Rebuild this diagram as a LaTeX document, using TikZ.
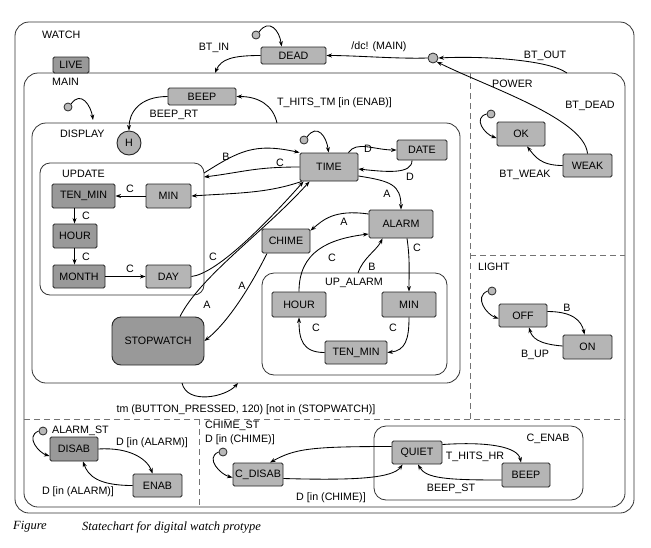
\documentclass[tikz,border=0pt]{standalone}
\usepackage{fontspec}
\setmainfont{Liberation Sans}
\newfontfamily\capfont{Liberation Serif}
\usetikzlibrary{arrows.meta,calc}
\tikzset{
  every node/.style={font=\fontsize{10.7}{12}\selectfont},
  box/.style={draw=black!85, line width=0.9pt, fill=gray!58, rounded corners=1.5pt, inner sep=1pt},
  dbox/.style={box, fill=gray!80},
  cont/.style={draw=black!80, line width=0.8pt, rounded corners=14pt, inner sep=0pt},
  tr/.style={draw=black, line width=0.85pt, -{Stealth[length=5.5pt,width=4pt]}},
  lbl/.style={inner sep=0pt},
  initdot/.style={circle, draw=black!85, line width=0.8pt, fill=gray!55, minimum size=8pt, inner sep=0pt},
  dsh/.style={draw=black!55, line width=0.7pt, dash pattern=on 6pt off 4pt}
}
\begin{document}
\begin{tikzpicture}[x=1pt,y=-1pt]
\useasboundingbox (0,0) rectangle (651,547);
\fill[white] (0,0) rectangle (651,547);
% containers
\node[cont, minimum width=619pt, minimum height=491pt] (watch) at (324.5,267.5) {};
\node[cont, minimum width=601pt, minimum height=434pt] (live) at (324.5,290) {};
\node[cont, minimum width=428pt, minimum height=260pt] (display) at (246,253) {};
\node[cont, rounded corners=10pt, minimum width=164pt, minimum height=132pt] (update) at (122,229) {};
\node[cont, rounded corners=12pt, minimum width=185pt, minimum height=102pt] (upalarm) at (354.5,324) {};
\node[cont, rounded corners=12pt, minimum width=209pt, minimum height=74pt] (cenab) at (478.5,463) {};
% dashed separators
\coordinate (dv1) at (470,73); \coordinate (dv2) at (470,419);
\coordinate (dh1) at (24,419); \coordinate (dh2) at (625,419);
\coordinate (dp1) at (470,255); \coordinate (dp2) at (625,255);
\coordinate (db1) at (199,419); \coordinate (db2) at (199,507);
\draw[dsh] (dv1) -- (dv2);
\draw[dsh] (dh1) -- (dh2);
\draw[dsh] (dp1) -- (dp2);
\draw[dsh] (db1) -- (db2);
% container labels
\node[lbl, anchor=west] (lwatch) at (42,35) {WATCH};
\node[lbl, anchor=west] (lmain) at (52,82) {MAIN};
\node[lbl, anchor=west] (ldisplay) at (60,134) {DISPLAY};
\node[lbl, anchor=west] (lupdate) at (62,174) {UPDATE};
\node[lbl, anchor=west] (lpower) at (492,84) {POWER};
\node[lbl, anchor=west] (llight) at (478,267) {LIGHT};
\node[lbl, anchor=west] (lalst) at (52,431) {ALARM\_ST};
\node[lbl, anchor=west] (lchst) at (205,426) {CHIME\_ST};
\node[lbl] (lcenab) at (548,439) {C\_ENAB};
\node[lbl] (lupal) at (354,283) {UP\_ALARM};
% states
\node[box, minimum width=65pt, minimum height=17pt] (dead) at (293.5,55.5) {DEAD};
\node[dbox, minimum width=36pt, minimum height=16pt] (livetab) at (71,65) {LIVE};
\node[box, minimum width=68pt, minimum height=17pt] (beep) at (202,96.5) {BEEP};
\node[circle, draw=black!85, line width=0.9pt, fill=gray!60, minimum size=24pt, inner sep=0pt] (h) at (129,143) {H};
\node[dbox, minimum width=63pt, minimum height=24pt] (tenmin) at (83.5,196) {TEN\_MIN};
\node[box, minimum width=45pt, minimum height=24pt] (min) at (168.5,196) {MIN};
\node[dbox, minimum width=44pt, minimum height=24pt] (hour) at (75,236) {HOUR};
\node[dbox, minimum width=52pt, minimum height=23pt] (month) at (79,276.5) {MONTH};
\node[box, minimum width=45pt, minimum height=23pt] (day) at (168.5,276.5) {DAY};
\node[box, minimum width=58pt, minimum height=28pt] (time) at (329,167) {TIME};
\node[box, minimum width=50pt, minimum height=20pt] (date) at (422,150) {DATE};
\node[box, minimum width=64pt, minimum height=28pt] (alarm) at (401,224) {ALARM};
\node[box, minimum width=48pt, minimum height=24pt] (chime) at (286,241) {CHIME};
\node[dbox, rounded corners=9pt, minimum width=92pt, minimum height=48pt] (stopwatch) at (158,341) {STOPWATCH};
\node[box, minimum width=54pt, minimum height=25pt] (uahour) at (299,304.5) {HOUR};
\node[box, minimum width=54pt, minimum height=25pt] (uamin) at (409,304.5) {MIN};
\node[box, minimum width=62pt, minimum height=23pt] (uatenmin) at (356,352.5) {TEN\_MIN};
\node[box, minimum width=48pt, minimum height=24pt] (ok) at (521,134) {OK};
\node[box, minimum width=49pt, minimum height=23pt] (weak) at (587.5,165.5) {WEAK};
\node[box, minimum width=48pt, minimum height=23pt] (off) at (523,315.5) {OFF};
\node[box, minimum width=49pt, minimum height=24pt] (on) at (587.5,347) {ON};
\node[dbox, minimum width=48pt, minimum height=24pt] (disab) at (74,449) {DISAB};
\node[box, minimum width=49pt, minimum height=23pt] (enab) at (157.5,485.5) {ENAB};
\node[box, minimum width=50pt, minimum height=23pt] (cdisab) at (258,474.5) {C\_DISAB};
\node[box, minimum width=50pt, minimum height=23pt] (quiet) at (417,452.5) {QUIET};
\node[box, minimum width=48pt, minimum height=24pt] (cbeep) at (526,475) {BEEP};
% initial dots and connector
\node[initdot] (d1) at (256,35) {};
\node[initdot] (d2) at (68,107) {};
\node[initdot] (d3) at (304,140) {};
\node[initdot] (d4) at (491,114) {};
\node[initdot] (d5) at (492,291) {};
\node[initdot] (d6) at (43,431) {};
\node[initdot] (d7) at (223,452) {};
\node[initdot, minimum size=10pt] (cc) at (433,58) {};
% boundary points
\coordinate (liveA) at (215,73);
\coordinate (liveB) at (567,73);
\coordinate (dispA) at (277,123);
\coordinate (mainEntry) at (93,120);
\coordinate (updA) at (204,173);
\coordinate (updB) at (204,177);
\coordinate (uaA) at (358,273);
\coordinate (dispL) at (182,383);
\coordinate (dispR) at (238,383);
% default transitions
\draw[tr] (d1.north east) .. controls +(10,-14) and +(-2,-16) .. ($(dead.north west)+(21,0)$);
\draw[tr] (d2.north east) .. controls +(10,-14) and +(-2,-14) .. (mainEntry);
\draw[tr] (d3.north east) .. controls +(10,-14) and +(-2,-16) .. ($(time.north west)+(29,0)$);
\draw[tr] (d4.west) .. controls +(-14,4) and +(-12,-4) .. ($(ok.west)+(0,4)$);
\draw[tr] (d5.west) .. controls +(-14,6) and +(-12,-4) .. ($(off.west)+(0,3)$);
\draw[tr] (d6.west) .. controls +(-14,6) and +(-10,-3) .. ($(disab.west)+(0,7)$);
\draw[tr] (d7.west) .. controls +(-14,6) and +(-12,-3) .. ($(cdisab.west)+(0,3)$);
% top transitions
\draw[tr] (dead.west) .. controls +(-28,0) and +(6,-14) .. (liveA);
\node[lbl] (lbtin) at (214,48) {BT\_IN};
\draw[tr] (cc.west) .. controls +(-30,1) and +(30,0) .. (dead.east);
\node[lbl] (ldc) at (379,47) {/dc! (MAIN)};
\draw[tr] (liveB) .. controls +(-20,-14) and +(40,-2) .. (cc.east);
\node[lbl] (lbtout) at (545,56) {BT\_OUT};
\draw[tr] (weak.north) .. controls +(-3,-35) and +(50,25) .. (cc.south east);
\node[lbl] (lbtdead) at (590,106) {BT\_DEAD};
\draw[tr] (weak.west) .. controls +(-22,0) and +(8,10) .. ($(ok.south)+(6,0)$);
\node[lbl] (lbtweak) at (525,175) {BT\_WEAK};
\draw[tr] (beep.west) .. controls +(-28,0) and +(0,-18) .. (h.north);
\node[lbl] (lbeeprt) at (174,115) {BEEP\_RT};
\draw[tr] (dispA) .. controls +(-4,-18) and +(22,0) .. (beep.east);
\node[lbl, anchor=west] (lthtm) at (277,103) {T\_HITS\_TM [in (ENAB)]};
% display transitions
\draw[tr] (updA) .. controls +(35,-22) and +(-45,-10) .. (time.north west);
\node[lbl] (lb1) at (226,157) {B};
\draw[tr] (time.west) .. controls +(-45,0) and +(40,-5) .. (updB);
\node[lbl] (lc1) at (280,163) {C};
\draw[tr] ($(time.south west)+(2,0)$) .. controls +(-35,12) and +(45,-3) .. (min.east);
\draw[tr] (day.east) .. controls +(25,-3) and +(-40,45) .. ($(time.south west)+(4,0)$);
\node[lbl] (lc2) at (213,257) {C};
\draw[tr] ($(stopwatch.north)+(22,0)$) .. controls +(20,-40) and +(-45,50) .. ($(time.south west)+(10,0)$);
\node[lbl] (la1) at (207,305) {A};
\draw[tr] ($(chime.south)+(-19,0)$) .. controls +(-15,30) and +(25,-20) .. (stopwatch.east);
\node[lbl] (la2) at (242,286) {A};
\draw[tr] ($(time.north east)+(-10,0)$) .. controls +(8,-12) and +(-22,0) .. (date.west);
\node[lbl] (ld1) at (368,149) {D};
\draw[tr] ($(date.south)+(-10,0)$) .. controls +(0,14) and +(28,3) .. ($(time.east)+(0,2)$);
\node[lbl] (ld2) at (410,177) {D};
\draw[tr] ($(time.east)+(0,9)$) .. controls +(32,5) and +(0,-25) .. (alarm.north);
\node[lbl] (la3) at (387,194) {A};
\draw[tr] ($(alarm.west)+(0,-10)$) .. controls +(-35,-5) and +(12,-10) .. ($(chime.north east)+(0,2)$);
\node[lbl] (la4) at (344,222) {A};
\draw[tr] ($(alarm.south)+(6,0)$) .. controls +(3,20) and +(0,-20) .. (uamin.north);
\node[lbl] (lc3) at (417,248) {C};
\draw[tr] (uaA) .. controls +(5,-15) and +(-6,12) .. ($(alarm.south west)+(14,0)$);
\node[lbl] (lb2) at (372,267) {B};
\draw[tr] (uahour.north) .. controls +(0,-40) and +(-40,5) .. ($(alarm.west)+(0,10)$);
\node[lbl] (lc4) at (332,258) {C};
\draw[tr] (uamin.south) .. controls +(0,22) and +(18,-2) .. (uatenmin.east);
\node[lbl] (lc5) at (393,328) {C};
\draw[tr] (uatenmin.west) .. controls +(-22,0) and +(0,22) .. (uahour.south);
\node[lbl] (lc6) at (316,328) {C};
\draw[tr] (min.west) -- (tenmin.east);
\node[lbl] (lc7) at (130,189) {C};
\draw[tr] ($(tenmin.south west)+(23,0)$) -- ($(hour.north west)+(22,0)$);
\node[lbl] (lc8) at (86,216) {C};
\draw[tr] ($(hour.south west)+(22,0)$) -- ($(month.north west)+(22,0)$);
\node[lbl] (lc9) at (86,257) {C};
\draw[tr] (month.east) -- (day.west);
\node[lbl] (lc10) at (130,269) {C};
\draw[tr] (dispL) .. controls +(5,22) and +(-12,14) .. (dispR);
\node[lbl] (ltm) at (246,410) {tm (BUTTON\_PRESSED, 120) [not in (STOPWATCH)]};
% light
\draw[tr] ($(off.east)+(0,-4)$) .. controls +(25,0) and +(-3,-14) .. ($(on.north)+(-3,0)$);
\node[lbl] (lb3) at (567,308) {B};
\draw[tr] ($(on.west)+(0,-1)$) .. controls +(-25,-2) and +(3,10) .. ($(off.south)+(6,0)$);
\node[lbl] (lbup) at (535,355) {B\_UP};
% alarm_st
\draw[tr] (disab.east) .. controls +(32,-2) and +(-5,-14) .. ($(enab.north)+(-5,0)$);
\node[lbl] (lda1) at (152,443) {D [in (ALARM)]};
\draw[tr] (enab.west) .. controls +(-35,0) and +(5,14) .. ($(disab.south)+(9,0)$);
\node[lbl] (lda2) at (78,492) {D [in (ALARM)]};
% chime_st
\node[lbl, anchor=west] (ldc1) at (205,440) {D [in (CHIME)]};
\draw[tr] ($(quiet.west)+(0,-6)$) .. controls +(-80,0) and +(25,-14) .. ($(cdisab.north)+(12,0)$);
\draw[tr] ($(cdisab.east)+(0,4)$) .. controls +(70,2) and +(-10,14) .. ($(quiet.south west)+(11,0)$);
\node[lbl] (ldc2) at (331,498) {D [in (CHIME)]};
\draw[tr] ($(quiet.east)+(0,-8)$) .. controls +(45,-3) and +(-3,-16) .. ($(cbeep.north)+(-5,0)$);
\node[lbl] (lthr) at (475,457) {T\_HITS\_HR};
\draw[tr] ($(cbeep.west)+(0,5)$) .. controls +(-55,0) and +(8,14) .. ($(quiet.south)+(1,0)$);
\node[lbl] (lbst) at (451,489) {BEEP\_ST};
% caption
\node[lbl, anchor=west, font=\capfont\itshape\fontsize{12.5}{14}\selectfont] (cap1) at (13,527) {Figure};
\node[lbl, anchor=west, font=\capfont\itshape\fontsize{12.5}{14}\selectfont] (cap2) at (82,527) {Statechart for digital watch protype};
\end{tikzpicture}
\end{document}
